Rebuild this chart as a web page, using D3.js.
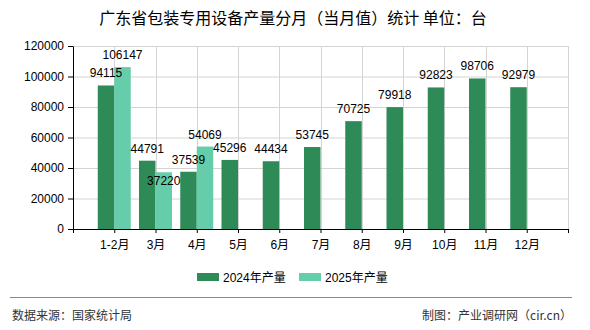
<!DOCTYPE html>
<html>
<head>
<meta charset="utf-8">
<script src="https://cdn.jsdelivr.net/npm/d3@7"></script>
<style>
  html, body { margin: 0; padding: 0; background: #fff; }
  svg { display: block; }
  text { font-family: "Liberation Sans", "Noto Sans CJK SC", sans-serif; }
</style>
</head>
<body>
<div id="chart"></div>
<script>
const title = "广东省包装专用设备产量分月（当月值）统计  单位：台";
const categories = ["1-2月","3月","4月","5月","6月","7月","8月","9月","10月","11月","12月"];
const values2024 = [94115,44791,37539,45296,44434,53745,70725,79918,92823,98706,92979];
const values2025 = [106147,37220,54069];
const seriesNames = ["2024年产量","2025年产量"];
const seriesColors = ["#2E8B57","#66CDAA"];
const yTicks = [0,20000,40000,60000,80000,100000,120000];
const sourceText = "数据来源：国家统计局";
const creditText = "制图：产业调研网（cir.cn）";

(function () {
const W = 590, H = 330;
const pL = 73, pR = 568, pT = 46, pB = 229;
const bw = 16.5;

const svg = d3.select("#chart").append("svg").attr("width", W).attr("height", H);

const x = d3.scalePoint().domain(["__s", ...categories, "__e"]).range([pL, pR]);
const y = d3.scaleLinear().domain([0, 120000]).range([pB, pT]);

// grid
const g = svg.append("g");
g.selectAll(".hg").data(yTicks).join("line")
  .attr("x1", pL).attr("x2", pR)
  .attr("y1", d => y(d) + 0.5).attr("y2", d => y(d) + 0.5)
  .attr("stroke", "#d4d4d4").attr("stroke-width", 1);
g.selectAll(".vg").data(x.domain()).join("line")
  .attr("x1", d => Math.round(x(d)) + 0.5).attr("x2", d => Math.round(x(d)) + 0.5)
  .attr("y1", pT).attr("y2", pB)
  .attr("stroke", "#d4d4d4").attr("stroke-width", 1);

// bars
const series = [values2024, values2025];
series.forEach((vals, si) => {
  svg.append("g").selectAll("rect").data(vals).join("rect")
    .attr("x", (d, i) => si === 0 ? x(categories[i]) - bw : x(categories[i]))
    .attr("y", d => y(d))
    .attr("width", bw)
    .attr("height", d => y(0) - y(d))
    .attr("fill", seriesColors[si]);
});

// axes
const ya = svg.append("g").attr("transform", `translate(${pL},0)`)
  .call(d3.axisLeft(y).tickValues(yTicks).tickFormat(d3.format("d")).tickSize(5).tickSizeOuter(0));
ya.selectAll("text").attr("font-size", 12).attr("fill", "#000").attr("dx", "-1")
  .style("font-family", "'Liberation Sans', sans-serif");
ya.select(".domain").attr("stroke", "#000");
ya.selectAll(".tick line").attr("stroke", "#000");

const xa = svg.append("g").attr("transform", `translate(0,${pB})`)
  .call(d3.axisBottom(x).tickSize(4).tickSizeOuter(0).tickFormat(d => d.startsWith("__") ? "" : d));
xa.select(".domain").attr("stroke", "#000");
xa.selectAll(".tick line").attr("stroke", "#000");
xa.selectAll("text").attr("font-size", 12).attr("fill", "#000").attr("dy", "1.05em");

// data labels
const labels = svg.append("g").attr("font-size", 12).attr("text-anchor", "middle").attr("fill", "#000");
const l24 = [];
values2024.forEach((v, i) => {
  const t = labels.append("text")
    .attr("x", x(categories[i]) - bw / 2).attr("y", y(v) - 8).text(v);
  l24.push(t.node().getBBox());
});
values2025.forEach((v, i) => {
  const t = labels.append("text")
    .attr("x", x(categories[i]) + bw / 2).attr("y", y(v) - 8).text(v);
  const b = t.node().getBBox(), a = l24[i];
  const overlap = b.x < a.x + a.width && a.x < b.x + b.width && b.y < a.y + a.height && a.y < b.y + b.height;
  if (overlap) t.attr("y", y(v) + 13);
});

// title
svg.append("text").attr("x", 293).attr("y", 24).attr("text-anchor", "middle")
  .attr("font-size", 16).attr("fill", "#000")
  .style("font-family", "'Noto Sans CJK SC', sans-serif")
  .text(title);

// legend
const legX = [197, 299];
seriesNames.forEach((n, i) => {
  svg.append("rect").attr("x", legX[i]).attr("y", 273).attr("width", 22).attr("height", 8)
    .attr("fill", seriesColors[i]);
  svg.append("text").attr("x", legX[i] + 26).attr("y", 282).attr("font-size", 12)
    .attr("fill", "#000").text(n);
});

// footer
svg.append("line").attr("x1", 10).attr("x2", 572).attr("y1", 297.5).attr("y2", 297.5)
  .attr("stroke", "#888").attr("stroke-width", 1.2);
svg.append("text").attr("x", 12).attr("y", 320).attr("font-size", 12).attr("fill", "#333")
  .style("font-family", "'Noto Sans CJK SC', sans-serif").text(sourceText);
svg.append("text").attr("x", 572).attr("y", 320).attr("font-size", 12).attr("fill", "#333")
  .attr("text-anchor", "end")
  .style("font-family", "'Noto Sans CJK SC', sans-serif").text(creditText);
})();
</script>
</body>
</html>
